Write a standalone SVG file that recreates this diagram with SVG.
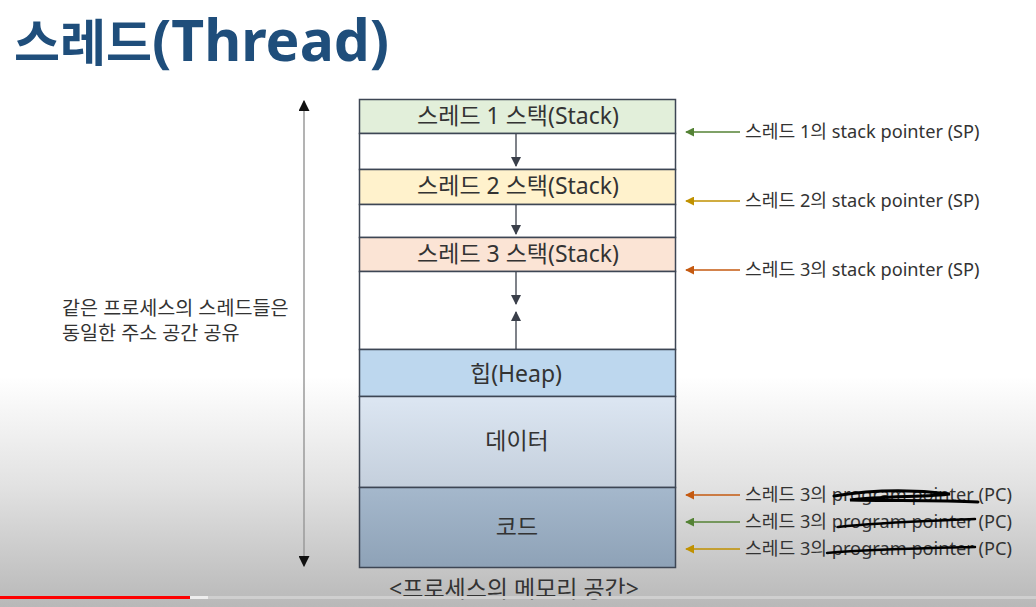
<svg xmlns="http://www.w3.org/2000/svg" width="1036" height="607" viewBox="0 0 1036 607">
<defs>
<linearGradient id="bg" x1="0" y1="0" x2="0" y2="1">
<stop offset="0" stop-color="#ffffff"/>
<stop offset="0.62" stop-color="#ffffff"/>
<stop offset="0.8" stop-color="#e2e2e2"/>
<stop offset="1" stop-color="#b8b8b8"/>
</linearGradient>
<linearGradient id="gData" x1="0" y1="0" x2="0" y2="1">
<stop offset="0" stop-color="#dce6f2"/>
<stop offset="1" stop-color="#c4cfdc"/>
</linearGradient>
<linearGradient id="gCode" x1="0" y1="0" x2="0" y2="1">
<stop offset="0" stop-color="#a5b8cc"/>
<stop offset="1" stop-color="#8ea2b7"/>
</linearGradient>
<marker id="ah" viewBox="0 0 10 10" refX="9" refY="5" markerWidth="10" markerHeight="10" markerUnits="userSpaceOnUse" orient="auto">
<path d="M0,0 L10,5 L0,10 z" fill="#3a3f4a"/>
</marker>
<marker id="ahBlk" viewBox="0 0 10 10" refX="9" refY="5" markerWidth="11" markerHeight="11" markerUnits="userSpaceOnUse" orient="auto-start-reverse">
<path d="M0,0 L10,5 L0,10 z" fill="#111"/>
</marker>
<marker id="ahG" viewBox="0 0 10 10" refX="9" refY="5" markerWidth="9" markerHeight="9" markerUnits="userSpaceOnUse" orient="auto">
<path d="M0,0 L10,5 L0,10 z" fill="#548235"/>
</marker>
<marker id="ahY" viewBox="0 0 10 10" refX="9" refY="5" markerWidth="9" markerHeight="9" markerUnits="userSpaceOnUse" orient="auto">
<path d="M0,0 L10,5 L0,10 z" fill="#c09100"/>
</marker>
<marker id="ahO" viewBox="0 0 10 10" refX="9" refY="5" markerWidth="9" markerHeight="9" markerUnits="userSpaceOnUse" orient="auto">
<path d="M0,0 L10,5 L0,10 z" fill="#c55a11"/>
</marker>
</defs>
<style>
text { font-family: "Noto Sans", "Noto Sans CJK KR", sans-serif; fill: #333; }
.title { font-size: 50px; font-weight: bold; fill: #1f4e7b; }
.seg { stroke: #3d4654; stroke-width: 1.5; }
.lbl { font-size: 23px; text-anchor: middle; }
.ptr { font-size: 18.2px; }
.note { font-size: 19.6px; }
.cap { font-size: 23px; text-anchor: middle; }
.inner { stroke: #3a3f4a; stroke-width: 1.3; fill: none; marker-end: url(#ah); }
.scrib { stroke: #000; fill: none; stroke-linecap: round; }
</style>
<rect x="0" y="0" width="1036" height="607" fill="url(#bg)"/>

<text class="title" x="14" y="61">스레드<tspan font-size="57">(Thread)</tspan></text>

<g id="memory">
<g id="stack1"><rect class="seg" x="359.5" y="99.5" width="316" height="34" fill="#e2efda"/><text class="lbl" x="518" y="124">스레드 1 스택(Stack)</text></g>
<g id="gap1"><rect class="seg" x="359.5" y="133.5" width="316" height="36" fill="#ffffff"/></g>
<g id="stack2"><rect class="seg" x="359.5" y="169.5" width="316" height="35" fill="#fff2cc"/><text class="lbl" x="518" y="194">스레드 2 스택(Stack)</text></g>
<g id="gap2"><rect class="seg" x="359.5" y="204.5" width="316" height="33" fill="#ffffff"/></g>
<g id="stack3"><rect class="seg" x="359.5" y="237.5" width="316" height="34" fill="#fbe4d5"/><text class="lbl" x="518" y="262">스레드 3 스택(Stack)</text></g>
<g id="free"><rect class="seg" x="359.5" y="271.5" width="316" height="78" fill="#ffffff"/></g>
<g id="heap"><rect class="seg" x="359.5" y="349.5" width="316" height="47" fill="#bdd7ee"/><text class="lbl" x="516" y="382">힙(Heap)</text></g>
<g id="data"><rect class="seg" x="359.5" y="396.5" width="316" height="91" fill="url(#gData)"/><text class="lbl" x="517" y="449">데이터</text></g>
<g id="code"><rect class="seg" x="359.5" y="487.5" width="316" height="80" fill="url(#gCode)"/><text class="lbl" x="517" y="535">코드</text></g>
</g>

<g id="connectors">
<line class="inner" x1="516" y1="134" x2="516" y2="166"/>
<line class="inner" x1="516" y1="205" x2="516" y2="234"/>
<line class="inner" x1="516" y1="272" x2="516" y2="304"/>
<line class="inner" x1="516" y1="349" x2="516" y2="312"/>
<line x1="304" y1="101" x2="304" y2="566" stroke="#9a9a9a" stroke-width="1.5" marker-start="url(#ahBlk)" marker-end="url(#ahBlk)"/>
<line x1="740" y1="132" x2="686" y2="132" stroke="#548235" stroke-width="1.5" marker-end="url(#ahG)"/>
<line x1="740" y1="201" x2="686" y2="201" stroke="#c09100" stroke-width="1.5" marker-end="url(#ahY)"/>
<line x1="740" y1="270" x2="686" y2="270" stroke="#c55a11" stroke-width="1.5" marker-end="url(#ahO)"/>
<line x1="740" y1="495" x2="686" y2="495" stroke="#c55a11" stroke-width="1.5" marker-end="url(#ahO)"/>
<line x1="740" y1="522" x2="686" y2="522" stroke="#548235" stroke-width="1.5" marker-end="url(#ahG)"/>
<line x1="740" y1="549" x2="686" y2="549" stroke="#c09100" stroke-width="1.5" marker-end="url(#ahY)"/>
</g>

<g id="labels">
<text class="ptr" x="745" y="138">스레드 1의 stack pointer (SP)</text>
<text class="ptr" x="745" y="207">스레드 2의 stack pointer (SP)</text>
<text class="ptr" x="745" y="276">스레드 3의 stack pointer (SP)</text>
<text class="ptr" x="745" y="501">스레드 3의 program pointer (PC)</text>
<text class="ptr" x="745" y="528">스레드 3의 program pointer (PC)</text>
<text class="ptr" x="745" y="555">스레드 3의 program pointer (PC)</text>
<text class="note" x="62" y="315">같은 프로세스의 스레드들은</text>
<text class="note" x="62" y="340">동일한 주소 공간 공유</text>
<text class="cap" x="514" y="597">&lt;프로세스의 메모리 공간&gt;</text>
</g>

<g id="scribbles">
<path class="scrib" stroke-width="3" d="M834,496 C870,490 910,489 950,494 C930,497 880,496 850,500 C890,501 940,500 978,502"/>
<path class="scrib" stroke-width="2.5" d="M838,527 C880,522 930,521 975,519"/>
<path class="scrib" stroke-width="2.5" d="M827,553 C870,549 930,548 975,547"/>
</g>

<rect x="0" y="596" width="1036" height="3" fill="#cfcfcf"/>
<rect x="0" y="596" width="190" height="3" fill="#ff0000"/>
<rect x="190" y="596" width="18" height="3" fill="#eeeeee"/>
</svg>
